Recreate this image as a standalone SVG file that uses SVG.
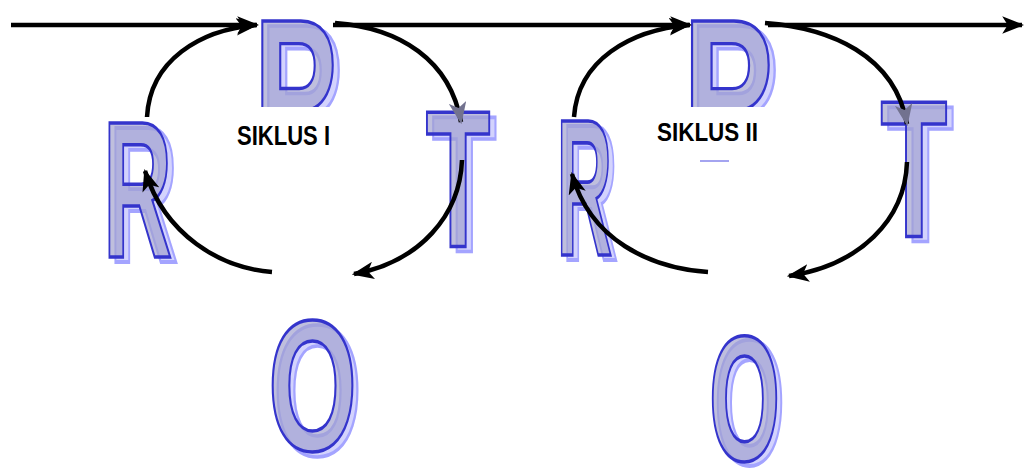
<svg xmlns="http://www.w3.org/2000/svg" width="1025" height="468" viewBox="0 0 1025 468">
  <style>
    .glyph { font-family: "Liberation Sans", Arial, sans-serif; font-weight: 700; font-size: 100px; vector-effect: non-scaling-stroke; }
    .shadow { fill: rgba(130,130,250,0.35); stroke: #a4a4ff; stroke-width: 3; }
    .face { fill: rgba(160,160,205,0.68); stroke: #3434cc; stroke-width: 2.8; }
    .label { font-family: "Liberation Sans", Arial, sans-serif; font-weight: 700; fill: #000; }
    .wire { fill: none; stroke: #000; stroke-width: 4.5; stroke-linecap: butt; }
  </style>
  <defs>
    <marker id="head" viewBox="0 0 20 16" refX="18" refY="8" markerWidth="22" markerHeight="18" markerUnits="userSpaceOnUse" orient="auto">
      <path d="M0,0 L20,8 L0,16 L5,8 z" fill="#000"/>
    </marker>
    <marker id="headDim" viewBox="0 0 20 16" refX="18" refY="8" markerWidth="22" markerHeight="18" markerUnits="userSpaceOnUse" orient="auto">
      <path d="M0,0 L20,8 L0,16 L5,8 z" fill="#72728f"/>
    </marker>
    <clipPath id="topBand">
      <rect x="0" y="0" width="1025" height="107"/>
    </clipPath>
  </defs>

  <rect width="1025" height="468" fill="#fff"/>

  <!-- cycle I -->
  <g id="p1" clip-path="url(#topBand)">
    <text class="glyph shadow" transform="translate(260,165) scale(1.245,2.025)">P</text>
    <text class="glyph face" transform="translate(254,160) scale(1.245,2.025)">P</text>
  </g>
  <g id="r1">
    <text class="glyph shadow" transform="translate(109,262) scale(0.958,1.955)">R</text>
    <text class="glyph face" transform="translate(103,257) scale(0.958,1.955)">R</text>
  </g>
  <g id="t1">
    <text class="glyph shadow" transform="translate(432,252) scale(1.058,1.941)">T</text>
    <text class="glyph face" transform="translate(425.7,247) scale(1.058,1.941)">T</text>
  </g>
  <g id="o1">
    <text class="glyph shadow" transform="translate(273,455) scale(1.147,1.86)">O</text>
    <text class="glyph face" transform="translate(268,450.4) scale(1.147,1.86)">O</text>
  </g>
  <g id="label1">
    <text class="label" x="237" y="145" font-size="27" textLength="93" lengthAdjust="spacingAndGlyphs">SIKLUS I</text>
  </g>

  <!-- cycle II -->
  <g id="p2" clip-path="url(#topBand)">
    <text class="glyph shadow" transform="translate(689,165) scale(1.354,2.025)">P</text>
    <text class="glyph face" transform="translate(683,160) scale(1.354,2.025)">P</text>
  </g>
  <g id="r2">
    <text class="glyph shadow" transform="translate(562,260) scale(0.773,1.955)">R</text>
    <text class="glyph face" transform="translate(556.4,255) scale(0.773,1.955)">R</text>
  </g>
  <g id="t2">
    <text class="glyph shadow" transform="translate(887,242) scale(1.093,1.955)">T</text>
    <text class="glyph face" transform="translate(880.6,237) scale(1.093,1.955)">T</text>
  </g>
  <g id="o2">
    <text class="glyph shadow" transform="translate(714,464) scale(0.914,1.779)">O</text>
    <text class="glyph face" transform="translate(709,459.5) scale(0.914,1.779)">O</text>
  </g>
  <g id="label2">
    <text class="label" x="657" y="141" font-size="25" textLength="101" lengthAdjust="spacingAndGlyphs">SIKLUS II</text>
    <line x1="700" y1="161" x2="729" y2="161" stroke="#a4a4f0" stroke-width="2"/>
  </g>

  <!-- connectors -->
  <g id="connectors">
    <path class="wire" d="M11,25 L257,25" marker-end="url(#head)"/>
    <path class="wire" d="M333,25 L690,25" marker-end="url(#head)"/>
    <path class="wire" d="M768,25 L1022,25" marker-end="url(#head)"/>

    <path class="wire" d="M147,117 C150,60 200,30 256,25" marker-end="url(#head)"/>
    <path class="wire" d="M335,23 C400,28 450,60 461,122" marker-end="url(#headDim)"/>
    <path class="wire" d="M462,160 C460,215 420,262 354,274" marker-end="url(#head)"/>
    <path class="wire" d="M272,272 C220,268 165,235 145,171" marker-end="url(#head)"/>

    <path class="wire" d="M574,117 C578,60 630,30 689,25" marker-end="url(#head)"/>
    <path class="wire" d="M765,23 C830,28 895,55 907,124" marker-end="url(#headDim)"/>
    <path class="wire" d="M907,162 C905,220 860,265 789,276" marker-end="url(#head)"/>
    <path class="wire" d="M708,272 C650,268 590,240 572,174" marker-end="url(#head)"/>
  </g>
</svg>
